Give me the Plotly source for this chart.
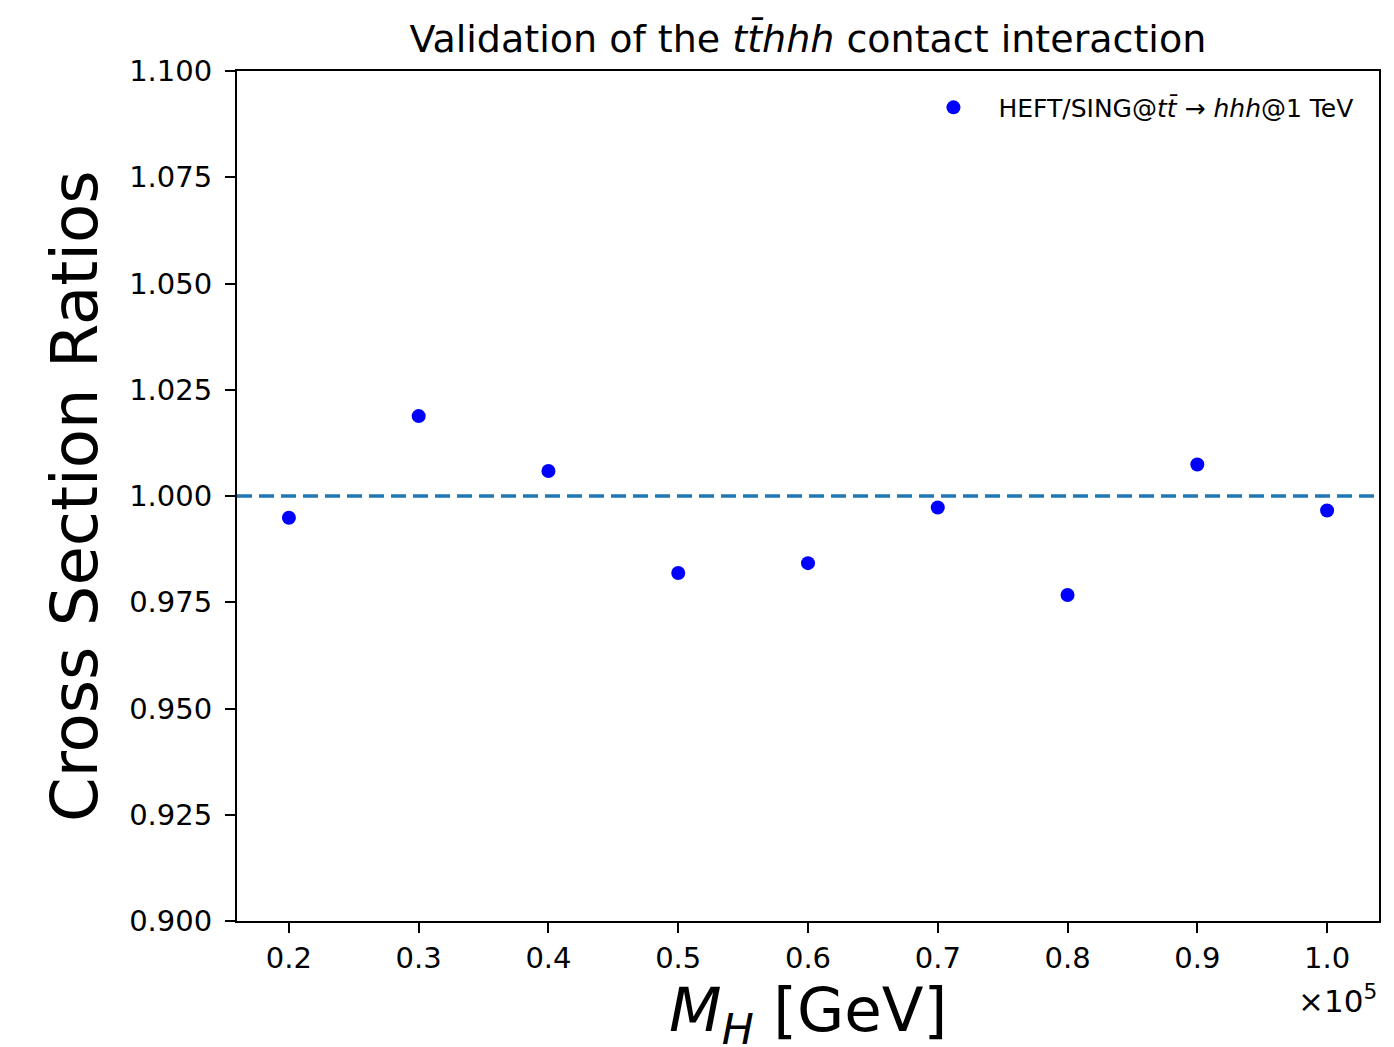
import plotly.graph_objects as go

mass_gev = [20000, 30000, 40000, 50000, 60000, 70000, 80000, 90000, 100000]
ratios = [0.9949, 1.0188, 1.0059, 0.9819, 0.9842, 0.9973, 0.9767, 1.0074, 0.9966]
errors = [0, 0, 0, 0, 0, 0, 0, 0, 0]
x_tick_vals = [20000, 30000, 40000, 50000, 60000, 70000, 80000, 90000, 100000]
x_tick_text = ["0.2", "0.3", "0.4", "0.5", "0.6", "0.7", "0.8", "0.9", "1.0"]
y_tick_vals = [0.900, 0.925, 0.950, 0.975, 1.000, 1.025, 1.050, 1.075, 1.100]
reference_ratio = 1.0

FONT = "DejaVu Sans"

fig = go.Figure()
fig.add_trace(go.Scatter(
    x=mass_gev, y=ratios, mode="markers",
    marker=dict(color="#0000ff", size=14),
    error_y=dict(type="data", array=errors, visible=True, color="#0000ff", thickness=2, width=3),
    name="HEFT/SING@<i>tt̄</i> → <i>hhh</i>@1 TeV",
))

fig.add_shape(type="line", xref="paper", yref="y", x0=0, x1=1,
              y0=reference_ratio, y1=reference_ratio,
              line=dict(color="#1f77b4", width=3.5, dash="15px,7px"), layer="below")

fig.update_layout(
    width=1394, height=1047,
    margin=dict(l=237, r=15, t=71, b=126),
    paper_bgcolor="white", plot_bgcolor="white",
    font=dict(family=FONT, color="black", size=29),
    showlegend=True,
    legend=dict(x=0.982, y=0.984, xanchor="right", yanchor="top",
                bgcolor="rgba(0,0,0,0)", font=dict(size=25, family=FONT),
                itemwidth=80),
    title=dict(text="Validation of the <i>tt̄hhh</i> contact interaction",
               x=0.5795, xanchor="center", y=0.963, yanchor="middle",
               font=dict(size=38, family=FONT)),
    xaxis=dict(range=[16000, 104000], tickvals=x_tick_vals, ticktext=x_tick_text,
               showline=True, linecolor="black", linewidth=2, mirror=True,
               ticks="outside", ticklen=10, tickwidth=2, tickcolor="black",
               showgrid=False, zeroline=False, tickfont=dict(size=29)),
    yaxis=dict(range=[0.9, 1.1], tickvals=y_tick_vals, tickformat=".3f",
               showline=True, linecolor="black", linewidth=2, mirror=True,
               ticks="outside", ticklen=10, tickwidth=2, tickcolor="black",
               ticklabelstandoff=7,
               showgrid=False, zeroline=False, tickfont=dict(size=29)),
    annotations=[
        dict(text="<i>M</i><sub><i>H</i></sub> [GeV]", xref="paper", yref="paper",
             x=0.5, y=0, yshift=-93, xanchor="center", yanchor="middle", showarrow=False,
             font=dict(size=61, family=FONT)),
        dict(text="Cross Section Ratios", xref="paper", yref="paper",
             x=0, xshift=-162, y=0.5, xanchor="center", yanchor="middle", textangle=-90,
             showarrow=False, font=dict(size=64, family=FONT)),
        dict(text="×10<sup>5</sup>", xref="paper", yref="paper",
             x=1, xshift=0, y=0, yshift=-78, xanchor="right", yanchor="middle",
             showarrow=False, font=dict(size=31, family=FONT)),
    ],
)

fig.write_html("out.html")
